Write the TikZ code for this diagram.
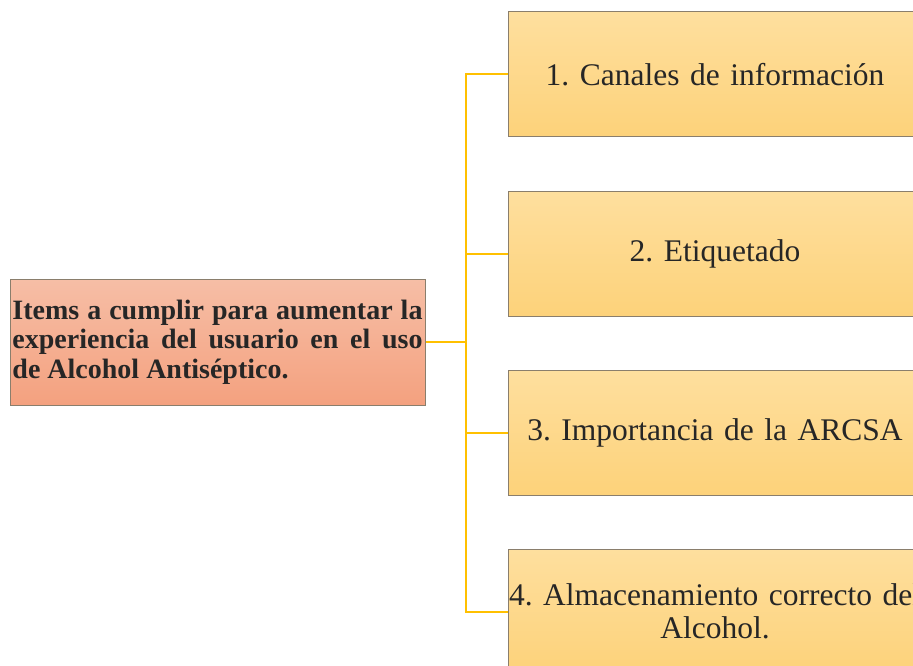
\documentclass[tikz,border=0pt]{standalone}
\usepackage{xcolor}
\usepackage{fontspec}
\setmainfont{Liberation Serif}
\usetikzlibrary{positioning}
\frenchspacing
\definecolor{boxtop}{RGB}{254,223,158}
\definecolor{boxbot}{RGB}{253,210,122}
\definecolor{roottop}{RGB}{246,190,166}
\definecolor{rootbot}{RGB}{244,161,127}
\definecolor{edgegray}{RGB}{138,126,108}
\definecolor{linegold}{RGB}{255,192,0}
\definecolor{txtdark}{RGB}{38,38,38}

\begin{document}
\begin{tikzpicture}[
    x=1pt, y=-1pt,
    node distance=53pt,
    item/.style={rectangle, draw=edgegray, line width=1pt, top color=boxtop, bottom color=boxbot, minimum width=414pt, minimum height=125pt, text width=414pt, inner sep=0pt, align=center, text=txtdark, font=\frenchspacing\fontsize{31.5}{33}\selectfont},
    root/.style={rectangle, draw=edgegray, line width=1pt, top color=roottop, bottom color=rootbot, minimum width=415pt, minimum height=126pt, text width=410pt, inner sep=0pt, align=justify, text=txtdark, font=\frenchspacing\bfseries\fontsize{28}{29.5}\selectfont},
    conn/.style={draw=linegold, line width=2pt}
]
    \useasboundingbox (0,0) rectangle (913,666);

    \node[root] (items) at (217.5,342) {Items a cumplir para aumentar la\linebreak experiencia del usuario en el uso\linebreak de Alcohol Antiséptico.};

    \node[item] (b1) at (715,74.5) {1. Canales de información};
    \node[item, below=of b1] (b2) {2. Etiquetado};
    \node[item, below=of b2] (b3) {3. Importancia de la ARCSA};
    \node[item, below=of b3] (b4) {4. Almacenamiento correcto del\\Alcohol.};

    \coordinate (fork) at (466,342);
    \draw[conn] (items.east) -- (fork);
    \foreach \i in {1,...,4}
        \draw[conn] (fork) |- (b\i.west);
\end{tikzpicture}
\end{document}
